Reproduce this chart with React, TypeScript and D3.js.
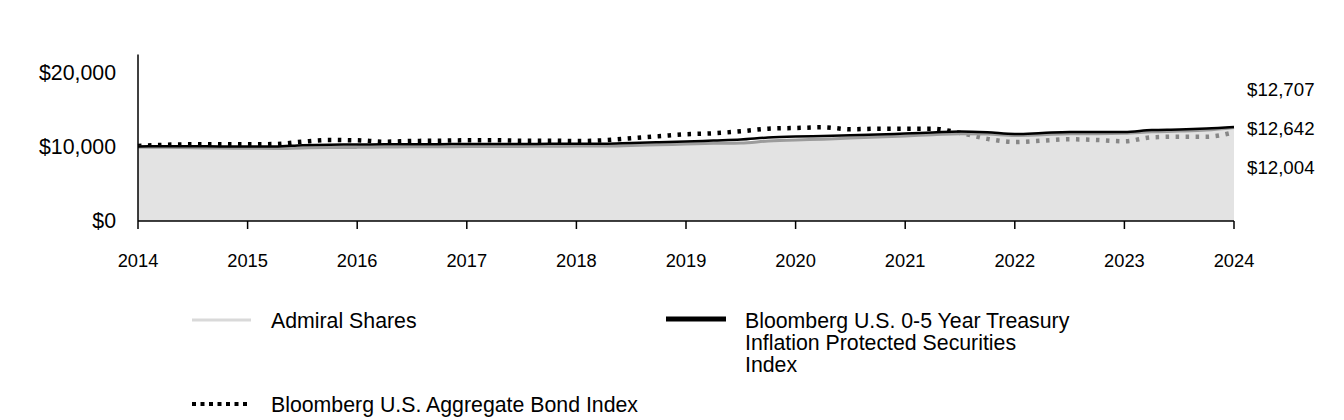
import React from "react";
import * as d3 from "d3";

const periods = [
  2014, 2014.25, 2014.5, 2014.75, 2015, 2015.25, 2015.5, 2015.75, 2016, 2016.25, 2016.5,
  2016.75, 2017, 2017.25, 2017.5, 2017.75, 2018, 2018.25, 2018.5, 2018.75, 2019, 2019.25,
  2019.5, 2019.75, 2020, 2020.25, 2020.5, 2020.75, 2021, 2021.25, 2021.5, 2021.75, 2022,
  2022.25, 2022.5, 2022.75, 2023, 2023.25, 2023.5, 2023.75, 2024,
];

const admiral = [
  10000, 9950, 9900, 9850, 9830, 9800, 9880, 9930, 9950, 10000, 10020,
  10030, 10060, 10070, 10080, 10100, 10120, 10120, 10200, 10300, 10400, 10500,
  10550, 10800, 10950, 11050, 11200, 11350, 11500, 11650, 11800, 11750, 11550,
  11650, 11800, 11800, 11850, 12050, 12150, 12300, 12642,
];

const tips = [
  10080, 10100, 10100, 10080, 10080, 10060, 10250, 10320, 10330, 10360, 10365,
  10378, 10405, 10405, 10405, 10432, 10446, 10446, 10541, 10635, 10743, 10878,
  11014, 11284, 11419, 11486, 11581, 11689, 11824, 11959, 12095, 11986, 11757,
  11892, 12027, 12027, 12027, 12297, 12365, 12500, 12707,
];

const aggregate = [
  10150, 10300, 10365, 10365, 10365, 10400, 10716, 10946, 10905, 10716, 10811,
  10851, 10905, 10905, 10851, 10851, 10811, 10905, 11176, 11446, 11716, 11851,
  12122, 12473, 12568, 12662, 12392, 12473, 12473, 12473, 11900, 11100, 10676,
  10850, 11041, 10946, 10780, 11311, 11392, 11392, 12004,
];

const yTicks = [0, 10000, 20000];
const xTicks = [2014, 2015, 2016, 2017, 2018, 2019, 2020, 2021, 2022, 2023, 2024];
const endLabels = ["$12,707", "$12,642", "$12,004"];
const legendTips = ["Bloomberg U.S. 0-5 Year Treasury", "Inflation Protected Securities", "Index"];

const FONT = "'Liberation Sans', Arial, sans-serif";

export default function App() {
  const x = d3.scaleLinear().domain([2014, 2024]).range([138, 1234]);
  const y = d3.scaleLinear().domain([0, 22500]).range([221, 54.5]);
  const fmt = (v: number) => "$" + d3.format(",")(v);

  const area = d3
    .area<number>()
    .x((_, i) => x(periods[i]))
    .y0(y(0))
    .y1((d) => y(d))
    .curve(d3.curveMonotoneX);
  const line = d3
    .line<number>()
    .x((_, i) => x(periods[i]))
    .y((d) => y(d))
    .curve(d3.curveMonotoneX);

  return (
    <svg
      width={1344}
      height={420}
      style={{ position: "absolute", left: 0, top: 0, background: "#fff" }}
      fontFamily={FONT}
    >
      {/* aggregate dotted line (behind area) */}
      <path
        d={line(aggregate) || ""}
        fill="none"
        stroke="#000"
        strokeWidth={4.5}
        strokeDasharray="3.5,6.5"
      />
      {/* admiral area */}
      <path d={area(admiral) || ""} fill="rgb(211,211,211)" fillOpacity={0.64} />
      <path d={line(admiral) || ""} fill="none" stroke="#9c9c9c" strokeWidth={3} />
      <path d={line(tips) || ""} fill="none" stroke="#000" strokeWidth={2.5} />

      {/* axes */}
      <line x1={138} x2={138} y1={y(22500)} y2={y(0)} stroke="#000" strokeWidth={1.5} />
      <line x1={138} x2={1234} y1={y(0)} y2={y(0)} stroke="#000" strokeWidth={1.5} />
      {yTicks.map((t) => (
        <text
          key={t}
          x={116}
          y={y(t)}
          dy="0.35em"
          textAnchor="end"
          fontSize={21.3}
          fill="#000"
        >
          {fmt(t)}
        </text>
      ))}
      {xTicks.map((t) => (
        <g key={t}>
          <line x1={x(t)} x2={x(t)} y1={y(0)} y2={y(0) + 8} stroke="#000" strokeWidth={1.5} />
          <text x={x(t)} y={261} dy="0.35em" textAnchor="middle" fontSize={18.3} fill="#000">
            {t}
          </text>
        </g>
      ))}

      {/* end labels */}
      {endLabels.map((l, i) => (
        <text key={l} x={1247} y={89 + i * 39} dy="0.35em" fontSize={18.7} fill="#000">
          {l}
        </text>
      ))}

      {/* legend */}
      <line x1={192} x2={251} y1={320} y2={320} stroke="#d9d9d9" strokeWidth={3} />
      <text x={271} y={321} dy="0.35em" fontSize={21.3} fill="#000">
        Admiral Shares
      </text>
      <line x1={666} x2={726} y1={319} y2={319} stroke="#000" strokeWidth={5} />
      {legendTips.map((l, i) => (
        <text key={l} x={745} y={321 + i * 22} dy="0.35em" fontSize={21.3} fill="#000">
          {l}
        </text>
      ))}
      <line
        x1={192}
        x2={247}
        y1={404}
        y2={404}
        stroke="#000"
        strokeWidth={4}
        strokeDasharray="4,4.5"
      />
      <text x={271} y={405} dy="0.35em" fontSize={21.3} fill="#000">
        Bloomberg U.S. Aggregate Bond Index
      </text>
    </svg>
  );
}
